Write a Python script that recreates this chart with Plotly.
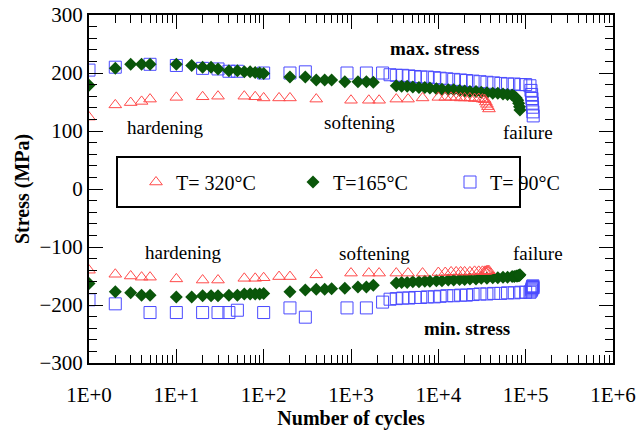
import plotly.graph_objects as go

# ---------------- data ----------------
# T = 320 C
N_320 = [1, 2, 3, 4, 5, 10, 20, 30, 60, 80, 100, 150, 200, 400,
         1000, 1600, 2100, 3300, 4500, 6600,
         10000, 12000, 14000, 16000, 18000, 20000, 23000, 26000, 29000, 32000,
         34000, 35000, 36000, 37000, 38000]
max_320 = [124, 145, 149, 151, 155, 158, 159, 160, 160, 159, 157, 157, 157, 155,
           153, 153, 153, 155, 155, 157,
           158, 158, 158, 158, 157, 157, 157, 156, 156, 155,
           154, 150, 146, 142, 138]
min_320 = [-140, -147, -150, -152, -152, -155, -157, -157, -154, -154, -153, -151, -151, -148,
           -145, -145, -145, -145, -145, -145,
           -144, -144, -143, -143, -143, -143, -143, -142, -142, -142,
           -142, -142, -141, -141, -141]

# T = 165 C
N_165 = [1, 2, 3, 4, 5, 10, 15, 20, 25, 30, 40, 50, 60, 70, 80, 90, 100,
         200, 300, 400, 500, 600, 850, 1200, 1500, 1800,
         3300, 3800, 4400, 5100, 6000, 7000, 8000, 9500, 11000, 13000, 15000,
         17500, 20000, 23000, 27000, 31000, 36000, 42000, 48000, 55000, 62000, 70000,
         74000, 78000, 81000, 83000, 85000, 86000]
max_165 = [179, 208, 215, 215, 215, 215, 213, 210, 210, 207, 204, 204, 202, 202, 201, 200, 199,
           193, 193, 188, 188, 188, 185, 185, 185, 184,
           178, 177, 177, 176, 175, 175, 174, 173, 172, 171, 171,
           170, 169, 168, 168, 167, 166, 165, 165, 164, 163, 162,
           160, 157, 153, 148, 142, 136]
min_165 = [-163, -177, -179, -183, -183, -186, -186, -184, -184, -184, -183, -183, -181, -181, -181, -181, -180,
           -177, -174, -173, -173, -172, -171, -169, -169, -166,
           -162, -161, -161, -160, -160, -159, -159, -158, -158, -157, -157,
           -156, -156, -155, -155, -154, -154, -153, -153, -152, -152, -151,
           -151, -150, -150, -149, -149, -148]

# T = 90 C
N_90 = [1, 2, 5, 10, 20, 30, 40, 50, 100, 200, 300,
        900, 1500, 2300,
        2800, 3300, 3900, 4600, 5400, 6300, 7500, 9000, 10500, 12500, 15000,
        18000, 21000, 25000, 30000, 36000, 43000, 52000, 62000, 74000, 88000, 100000,
        112000, 115000, 117000, 118000, 119000, 120000, 121000, 122000]
max_90 = [205, 210, 215, 213, 208, 207, 203, 203, 200, 200, 202,
          200, 200, 200,
          197, 196, 196, 195, 194, 193, 193, 192, 191, 190, 189,
          188, 187, 186, 185, 184, 183, 182, 181, 181, 180, 180,
          178, 170, 163, 156, 148, 141, 133, 126]
min_90 = [-191, -198, -213, -213, -213, -213, -213, -209, -213, -205, -221,
          -205, -205, -195,
          -190, -189, -188, -188, -187, -187, -186, -186, -185, -184, -184,
          -183, -183, -182, -181, -181, -180, -180, -179, -179, -178, -178,
          -178, -176, -174, -172, -170, -168, -167, -170]

x_tick_vals = [1, 10, 100, 1000, 10000, 100000, 1000000]
x_tick_text = ["1E+0", "1E+1", "1E+2", "1E+3", "1E+4", "1E+5", "1E+6"]
legend_names = ["T= 320\u00b0C", "T=165\u00b0C", "T= 90\u00b0C"]

# ---------------- figure ----------------
FONT = "Liberation Serif"
W, H = 637, 430
ML, MR, MT, MB = 89, 24, 15, 67
PW, PH = W - ML - MR, H - MT - MB


def px_x(px):
    return (px - ML) / PW


def px_y(py):
    return (H - MB - py) / PH


fig = go.Figure()

fig.add_trace(go.Scatter(
    x=N_90 + N_90, y=max_90 + min_90, mode="markers", name=legend_names[2],
    marker=dict(symbol="square-open", size=12, color="#4a4aff", line=dict(width=1, color="#4a4aff")),
))
fig.add_trace(go.Scatter(
    x=N_165 + N_165, y=max_165 + min_165, mode="markers", name=legend_names[1],
    marker=dict(symbol="diamond", size=10, color="#0a560a", line=dict(width=0)),
))
fig.add_trace(go.Scatter(
    x=N_320 + N_320, y=max_320 + min_320, mode="markers", name=legend_names[0],
    marker=dict(symbol="triangle-up-open", size=11, color="#ff4a4a", line=dict(width=1, color="#ff4a4a")),
))

axis_common = dict(
    showgrid=False, zeroline=False, showline=True, linecolor="black", linewidth=2,
    mirror="ticks", ticks="inside", tickcolor="black", tickwidth=1, ticklen=14,
    tickfont=dict(family=FONT, size=21, color="black"), automargin=False,
)

fig.update_xaxes(
    type="log", range=[0, 6], tickvals=x_tick_vals, ticktext=x_tick_text,
    ticklabelstandoff=12,
    minor=dict(ticks="inside", ticklen=8, tickcolor="black", tickwidth=1, dtick="D1"),
    title=dict(text="<b>Number of cycles</b>", font=dict(family=FONT, size=20, color="black"), standoff=6),
    **axis_common,
)
fig.update_yaxes(
    range=[-300, 300], dtick=100, tick0=0,
    minor=dict(ticks="inside", ticklen=8, tickcolor="black", tickwidth=1, dtick=20),
    **axis_common,
)

# y-axis title
fig.add_annotation(text="<b>Stress (MPa)</b>", textangle=-90, x=px_x(22), y=px_y(189),
                   xref="paper", yref="paper", showarrow=False, xanchor="center", yanchor="middle",
                   font=dict(family=FONT, size=20, color="black"))

# legend box
fig.add_shape(type="rect", xref="paper", yref="paper",
              x0=px_x(117), x1=px_x(520), y0=px_y(207), y1=px_y(157),
              line=dict(color="black", width=2), fillcolor="white", layer="above")

annots = [
    ("<b>max. stress</b>", 434, 48),
    ("hardening", 165, 128),
    ("softening", 359, 122),
    ("failure", 528, 132),
    ("hardening", 183, 252),
    ("softening", 374, 253),
    ("failure", 538, 253),
    ("<b>min. stress</b>", 467, 328),
]
for txt, ax_, ay_ in annots:
    fig.add_annotation(text=txt, x=px_x(ax_), y=px_y(ay_), xref="paper", yref="paper",
                       showarrow=False, xanchor="center", yanchor="middle",
                       font=dict(family=FONT, size=19, color="black"))

fig.update_layout(
    width=W, height=H,
    margin=dict(l=ML, r=MR, t=MT, b=MB, autoexpand=False),
    paper_bgcolor="white", plot_bgcolor="white",
    showlegend=True,
    legend=dict(
        orientation="h", x=px_x(136), y=px_y(182), xanchor="left", yanchor="middle",
        bgcolor="rgba(0,0,0,0)", borderwidth=0, traceorder="reversed",
        entrywidth=112, entrywidthmode="pixels",
        font=dict(family=FONT, size=20, color="black"),
    ),
    font=dict(family=FONT, size=20, color="black"),
)

fig.write_html("out.html")
